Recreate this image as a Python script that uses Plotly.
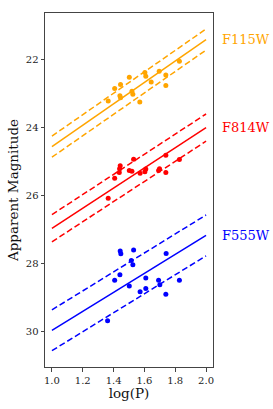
import numpy as np
import plotly.graph_objects as go

# ---- data ----
filters = ["F115W", "F814W", "F555W"]
colors = ["orange", "red", "blue"]

logP_F115W = [1.365, 1.407, 1.445, 1.441, 1.445, 1.502, 1.519, 1.525, 1.570, 1.603, 1.609, 1.644, 1.696, 1.739, 1.739, 1.827]
mag_F115W = [23.21, 22.84, 22.72, 23.05, 23.11, 22.51, 22.92, 23.01, 23.24, 22.37, 22.48, 22.65, 22.33, 22.44, 22.75, 22.04]

logP_F814W = [1.365, 1.407, 1.443, 1.439, 1.437, 1.530, 1.502, 1.519, 1.572, 1.609, 1.603, 1.698, 1.692, 1.739, 1.739, 1.827]
mag_F814W = [26.07, 25.48, 25.11, 25.20, 25.31, 24.92, 25.25, 25.27, 25.33, 25.21, 25.29, 25.20, 25.25, 24.80, 25.31, 24.93]

logP_F555W = [1.361, 1.407, 1.441, 1.443, 1.447, 1.502, 1.515, 1.525, 1.530, 1.572, 1.609, 1.609, 1.692, 1.700, 1.739, 1.741, 1.827]
mag_F555W = [29.67, 28.48, 28.32, 27.62, 27.70, 28.65, 27.90, 28.02, 27.59, 28.82, 28.41, 28.72, 28.48, 28.61, 28.89, 27.69, 28.48]

# PL fit: mag = slope * logP + zero_point, with scatter band +/- width
slopes = [-3.15, -2.96, -2.79]
zero_points = [27.70, 29.91, 32.74]
widths = [0.31, 0.40, 0.60]
fit_range = [1.0, 2.0]

x_ticks = [1.0, 1.2, 1.4, 1.6, 1.8, 2.0]
y_ticks = [22, 24, 26, 28, 30]

points = {
    "F115W": (logP_F115W, mag_F115W),
    "F814W": (logP_F814W, mag_F814W),
    "F555W": (logP_F555W, mag_F555W),
}

FONT = "DejaVu Serif"
fig = go.Figure()
xl = np.array(fit_range)
annotations = []
for f, c, s, z, w in zip(filters, colors, slopes, zero_points, widths):
    yl = s * xl + z
    fig.add_trace(go.Scatter(x=xl, y=yl, mode="lines", line=dict(color=c, width=1.5), showlegend=False))
    for d in (-w, w):
        fig.add_trace(go.Scatter(x=xl, y=yl + d, mode="lines",
                                 line=dict(color=c, width=1.5, dash="6px,3px"), showlegend=False))
    px, py = points[f]
    fig.add_trace(go.Scatter(x=px, y=py, mode="markers", marker=dict(color=c, size=5), showlegend=False))
    annotations.append(dict(x=1, xref="paper", y=float(yl[-1]), yref="y", text=f,
                            showarrow=False, xanchor="left", xshift=7,
                            font=dict(family=FONT, size=13, color=c)))

axis_common = dict(showline=True, linecolor="#444", linewidth=1, mirror=True,
                   ticks="outside", ticklen=3.5, tickcolor="#444", showgrid=False,
                   zeroline=False, tickfont=dict(family=FONT, size=10, color="#222"))

fig.update_layout(
    width=273, height=409,
    margin=dict(l=41, r=60, t=12, b=33),
    plot_bgcolor="white", paper_bgcolor="white",
    annotations=annotations,
    xaxis=dict(range=[0.955, 2.045], tickvals=x_ticks, tickformat=".1f",
               title=dict(text="log(P)", font=dict(family=FONT, size=13.5, color="#111"), standoff=2),
               **axis_common),
    yaxis=dict(range=[31.03, 20.62], tickvals=y_ticks,
               title=dict(text="Apparent Magnitude", font=dict(family=FONT, size=13.5, color="#111"), standoff=4),
               **axis_common),
)

fig.write_html("out.html", config={"displayModeBar": False},
               post_script="document.body.style.margin='0';document.body.style.overflow='hidden';")
